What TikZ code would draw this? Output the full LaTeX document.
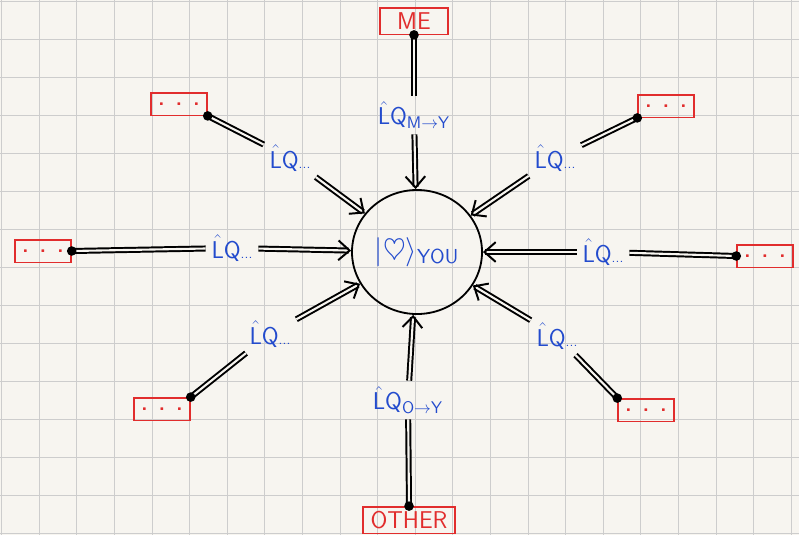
\documentclass[tikz,border=0pt]{standalone}
\usepackage{amssymb}
\usetikzlibrary{arrows.meta,shapes.geometric}

\definecolor{paper}{RGB}{247,245,240}
\definecolor{gridgray}{RGB}{205,205,205}
\definecolor{penblue}{RGB}{35,75,205}
\definecolor{boxred}{RGB}{225,45,45}

\newcommand{\lqop}{$\hat{\mathsf{L}}\mathsf{Q}$}

\tikzset{
  gridline/.style={gridgray, line width=0.6pt},
  redbox/.style={draw=boxred, line width=1pt, text=boxred, font=\sffamily\LARGE,
    minimum height=0.66cm, inner sep=2pt},
  dotbox/.style={redbox, minimum width=1.4cm, minimum height=0.56cm, font=\sffamily\Large\bfseries},
  lq/.style={text=penblue, font=\sffamily\LARGE, inner sep=4pt},
  conn/.style={double=paper, double distance=1.5pt, line width=1.4pt},
  arr/.style={conn, -{Straight Barb[length=8pt,width=14pt]}},
  pin/.style={fill=black, radius=0.12cm}
}

\begin{document}
\begin{tikzpicture}[x=0.025cm,y=-0.025cm]
  \fill[paper] (0,0) rectangle (799,535);
  \useasboundingbox (0,0) rectangle (799,535);
  % squared paper
  \foreach \gx in {1.6,39.2,...,799}
    \draw[gridline] (\gx,0) -- (\gx,535);
  \foreach \gy in {1,39,...,535}
    \draw[gridline] (0,\gy) -- (799,\gy);

  % the ket in the middle
  \node[ellipse, draw, line width=1.3pt, minimum width=3.25cm, minimum height=3.1cm,
    text=penblue, font=\huge, inner sep=0pt] (you) at (417,252)
    {$|\heartsuit\rangle_{\mathsf{YOU}}$};

  % boxes
  \node[redbox, minimum width=1.7cm] (me) at (414,21) {ME};
  \node[redbox, minimum width=2.3cm] (other) at (409,520) {OTHER};
  \node[dotbox] (bxtl) at (179,104) {.\;\;.\;\;.};
  \node[dotbox] (bxtr) at (666,106) {.\;\;.\;\;.};
  \node[dotbox] (bxl) at (43,251) {.\;\;.\;\;.};
  \node[dotbox] (bxr) at (765,256) {.\;\;.\;\;.};
  \node[dotbox] (bxbl) at (162,409) {.\;\;.\;\;.};
  \node[dotbox] (bxbr) at (646,410) {.\;\;.\;\;.};

  % labels
  \node[lq] (lqme) at (414,115) {\lqop$_{\mathsf{M}\to\mathsf{Y}}$};
  \node[lq] (lqother) at (408,400) {\lqop$_{\mathsf{O}\to\mathsf{Y}}$};
  \node[lq] (lqtl) at (290,158) {\lqop{\normalsize...}};
  \node[lq] (lqtr) at (555,158) {\lqop{\normalsize...}};
  \node[lq] (lql) at (232,248) {\lqop{\normalsize...}};
  \node[lq] (lqr) at (603,252) {\lqop{\normalsize...}};
  \node[lq] (lqbl) at (270,334) {\lqop{\normalsize...}};
  \node[lq] (lqbr) at (557,336) {\lqop{\normalsize...}};

  % connectors
  \foreach \bx/\an/\lb in {me/south/lqme, other/north/lqother, bxtl/south east/lqtl,
      bxtr/south west/lqtr, bxl/east/lql, bxr/west/lqr, bxbl/north east/lqbl,
      bxbr/north west/lqbr} {
    \draw[conn] (\bx.\an) -- (\lb);
    \draw[arr] (\lb) -- (you);
    \fill[pin] (\bx.\an) circle;
  }
\end{tikzpicture}
\end{document}
